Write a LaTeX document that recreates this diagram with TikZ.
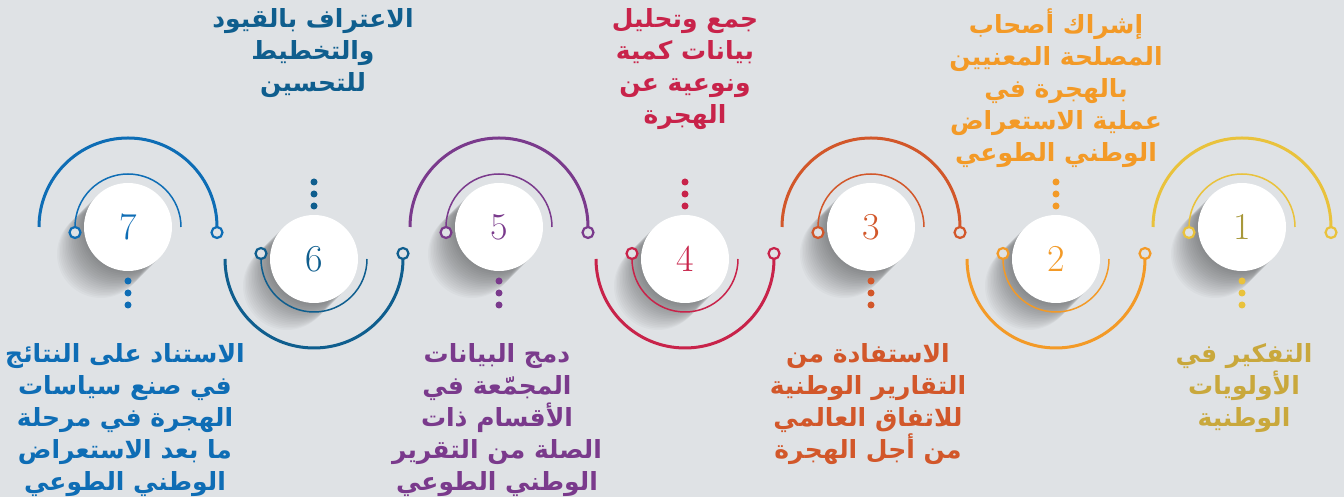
\documentclass[tikz,border=0pt]{standalone}
\usepackage{fontspec}
\newfontfamily\arabicfont[Script=Arabic]{DejaVu Sans}
\TeXXeTstate=1
\newcommand{\ar}[1]{\beginR #1\endR}
\definecolor{bgGray}{HTML}{DFE2E5}
\definecolor{stepA}{HTML}{E9C23C}
\definecolor{numA}{HTML}{A8983A}
\definecolor{txtA}{HTML}{C9A83C}
\definecolor{stepB}{HTML}{F39A27}
\definecolor{stepC}{HTML}{D2572A}
\definecolor{stepD}{HTML}{C8234A}
\definecolor{stepE}{HTML}{7A3A8C}
\definecolor{stepF}{HTML}{0F5E8E}
\definecolor{stepG}{HTML}{0E6DB5}

\begin{document}
\begin{tikzpicture}[x=0.5pt, y=0.5pt,
    disk/.style={circle, fill=white, minimum size=44pt, inner sep=0pt,
      font=\fontsize{19}{19}\selectfont},
    bigarc/.style={line width=1.5pt},
    smallarc/.style={line width=0.75pt},
    ring/.style={line width=1.1pt, fill=bgGray},
    steptext/.style={align=center, inner sep=0pt,
      font=\arabicfont\bfseries\fontsize{12.5}{16}\selectfont}]
  \fill[bgGray] (0,0) rectangle (1344,497);
  \useasboundingbox (0,0) rectangle (1344,497);

  % circles with arcs above
  \foreach \n/\cx/\col/\numcol in {1/1242/stepA/numA, 3/871/stepC/stepC,
      5/499/stepE/stepE, 7/128/stepG/stepG}{
    \foreach \k in {1,...,18}
      \fill[black, opacity=0.022] (\cx-\k*1.5,270-\k*1.5) circle (44);
    \draw[bigarc, \col] (\cx-89,270) arc (180:0:89);
    \draw[ring, draw=\col] (\cx+89,264.5) circle (5.5);
    \draw[smallarc, \col] (\cx+53,270) arc (0:180:53);
    \draw[ring, draw=\col] (\cx-53,264.5) circle (5.5);
    \node[disk, text=\numcol] (c\n) at (\cx,270) {\n};
    \foreach \d in {216,204,192}
      \fill[\col] (\cx,\d) circle (3.5);
  }

  % circles with arcs below
  \foreach \n/\cx/\col in {2/1056/stepB, 4/685/stepD, 6/314/stepF}{
    \foreach \k in {1,...,18}
      \fill[black, opacity=0.022] (\cx-\k*1.5,238-\k*1.5) circle (44);
    \draw[bigarc, \col] (\cx-89,238) arc (180:360:89);
    \draw[ring, draw=\col] (\cx+89,243.5) circle (5.5);
    \draw[smallarc, \col] (\cx+53,238) arc (360:180:53);
    \draw[ring, draw=\col] (\cx-53,243.5) circle (5.5);
    \node[disk, text=\col] (c\n) at (\cx,238) {\n};
    \foreach \d in {315,303,291}
      \fill[\col] (\cx,\d) circle (3.5);
  }

  % texts
  \node[steptext, text=txtA, anchor=north] (t1) at (1244,154)
    {\ar{التفكير في}\\\ar{الأولويات}\\\ar{الوطنية}};
  \node[steptext, text=stepB, anchor=north] (t2) at (1056,489)
    {\ar{إشراك أصحاب}\\\ar{المصلحة المعنيين}\\\ar{بالهجرة في}\\\ar{عملية الاستعراض}\\\ar{الوطني الطوعي}};
  \node[steptext, text=stepC, anchor=north] (t3) at (868,154)
    {\ar{الاستفادة من}\\\ar{التقارير الوطنية}\\\ar{للاتفاق العالمي}\\\ar{من أجل الهجرة}};
  \node[steptext, text=stepD, anchor=north] (t4) at (685,489)
    {\ar{جمع وتحليل}\\\ar{بيانات كمية}\\\ar{ونوعية عن}\\\ar{الهجرة}};
  \node[steptext, text=stepE, anchor=north] (t5) at (497,154)
    {\ar{دمج البيانات}\\\ar{المجمّعة في}\\\ar{الأقسام ذات}\\\ar{الصلة من التقرير}\\\ar{الوطني الطوعي}};
  \node[steptext, text=stepF, anchor=north] (t6) at (313,489)
    {\ar{الاعتراف بالقيود}\\\ar{والتخطيط}\\\ar{للتحسين}};
  \node[steptext, text=stepG, anchor=north] (t7) at (125,154)
    {\ar{الاستناد على النتائج}\\\ar{في صنع سياسات}\\\ar{الهجرة في مرحلة}\\\ar{ما بعد الاستعراض}\\\ar{الوطني الطوعي}};
\end{tikzpicture}
\end{document}
